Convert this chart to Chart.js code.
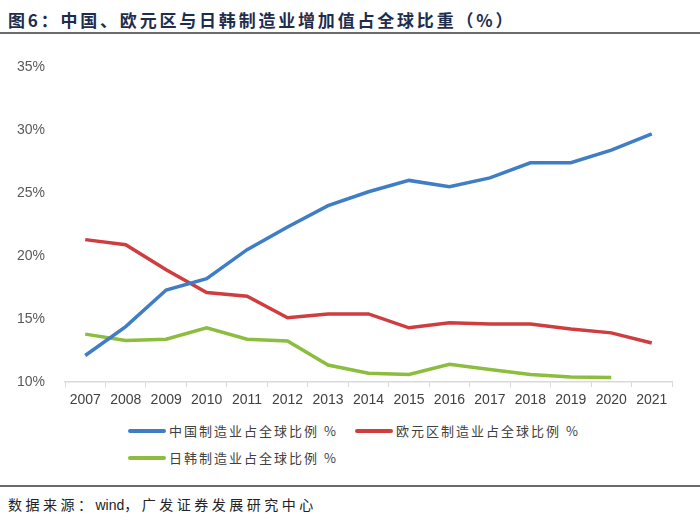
<!DOCTYPE html>
<html>
<head>
<meta charset="utf-8">
<script src="https://cdn.jsdelivr.net/npm/chart.js@4"></script>
<style>
  body { margin: 0; width: 700px; height: 523px; background: #fff; position: relative; overflow: hidden;
         font-family: "Noto Sans CJK SC", sans-serif; }
  #title { position: absolute; left: 8px; top: 7px; font-size: 17px; font-weight: bold; color: #1f2d4d; letter-spacing: 2.8px; }
  #topRule { position: absolute; left: 0; top: 32px; width: 700px; height: 2px; background: #6b6b6b; }
  #wrap { position: absolute; left: 0; top: 45px; width: 700px; height: 365px; }
  #legend { position: absolute; left: 0; top: 421px; width: 700px; }
  .item { position: absolute; display: flex; align-items: center; font-size: 13px; color: #404040; white-space: nowrap; letter-spacing: 2px; }
  .swatch { width: 38px; height: 4px; border-radius: 2px; margin-right: 3px; }
  #bottomRule { position: absolute; left: 0; top: 485px; width: 700px; height: 2px; background: #6b6b6b; }
  #source { position: absolute; left: 8px; top: 494px; font-size: 14px; color: #222; letter-spacing: 3.5px; }
</style>
</head>
<body>
<div id="title">图6：中国、欧元区与日韩制造业增加值占全球比重（%）</div>
<div id="topRule"></div>
<div id="wrap"><canvas id="lineChart"></canvas></div>
<div id="legend"></div>
<div id="bottomRule"></div>
<div id="source">数据来源：<span style="font-family: 'Liberation Sans', Arial, sans-serif; letter-spacing: 0;">wind</span>，广发证券发展研究中心</div>
<script>
const years = ['2007', '2008', '2009', '2010', '2011', '2012', '2013', '2014',
               '2015', '2016', '2017', '2018', '2019', '2020', '2021'];
const chinaShare = [12.1, 14.4, 17.3, 18.2, 20.5, 22.3, 24.0, 25.1, 26.0, 25.5, 26.2, 27.4, 27.4, 28.4, 29.7];
const euroShare = [21.3, 20.9, 18.9, 17.1, 16.8, 15.1, 15.4, 15.4, 14.3, 14.7, 14.6, 14.6, 14.2, 13.9, 13.1];
const japanKoreaShare = [13.8, 13.3, 13.4, 14.3, 13.4, 13.25, 11.35, 10.7, 10.6, 11.4, 11.0, 10.6, 10.4, 10.35, null];
const yTicks = [10, 15, 20, 25, 30, 35];

const seriesInfo = [
  { label: '中国制造业占全球比例 %', data: chinaShare, color: '#3f7dc6' },
  { label: '欧元区制造业占全球比例 %', data: euroShare, color: '#cf3d3f' },
  { label: '日韩制造业占全球比例 %', data: japanKoreaShare, color: '#8cbd3f' },
];

// legend laid out like the original: two on the first row, one below
const legendPos = [[128, 0], [355, 0], [128, 27]];
const legendEl = document.getElementById('legend');
seriesInfo.forEach((s, i) => {
  const item = document.createElement('div');
  item.className = 'item';
  item.style.left = legendPos[i][0] + 'px';
  item.style.top = legendPos[i][1] + 'px';
  item.innerHTML = `<span class="swatch" style="background:${s.color}"></span>${s.label}`;
  legendEl.appendChild(item);
});

const tickFont = { family: "'Liberation Sans', Arial, sans-serif", size: 14 };

new Chart(document.getElementById('lineChart').getContext('2d'), {
  type: 'line',
  data: {
    labels: years,
    datasets: seriesInfo.map(s => ({
      label: s.label,
      data: s.data,
      borderColor: s.color,
      backgroundColor: s.color,
      borderWidth: 3.5,
      pointRadius: 0,
      tension: 0,
      spanGaps: false,
    })),
  },
  options: {
    responsive: true,
    maintainAspectRatio: false,
    animation: false,
    layout: { padding: { top: 22, right: 28, left: 0, bottom: 0 } },
    plugins: {
      legend: { display: false },
      tooltip: { enabled: false },
    },
    scales: {
      x: {
        offset: true,
        grid: { drawOnChartArea: false, drawTicks: true, tickLength: 5, color: '#d9d9d9', offset: true },
        border: { color: '#d9d9d9', width: 1.5 },
        ticks: { color: '#404040', font: tickFont, maxRotation: 0, autoSkip: false, padding: 5 },
        afterFit: scale => { scale.height = 28; },
      },
      y: {
        min: 10,
        max: 35,
        afterBuildTicks: scale => { scale.ticks = yTicks.map(v => ({ value: v })); },
        grid: { display: false },
        border: { display: false },
        ticks: { color: '#595959', font: tickFont, padding: 12, callback: v => v + '%' },
        afterFit: scale => { scale.width = 65; },
      },
    },
  },
});
</script>
</body>
</html>
